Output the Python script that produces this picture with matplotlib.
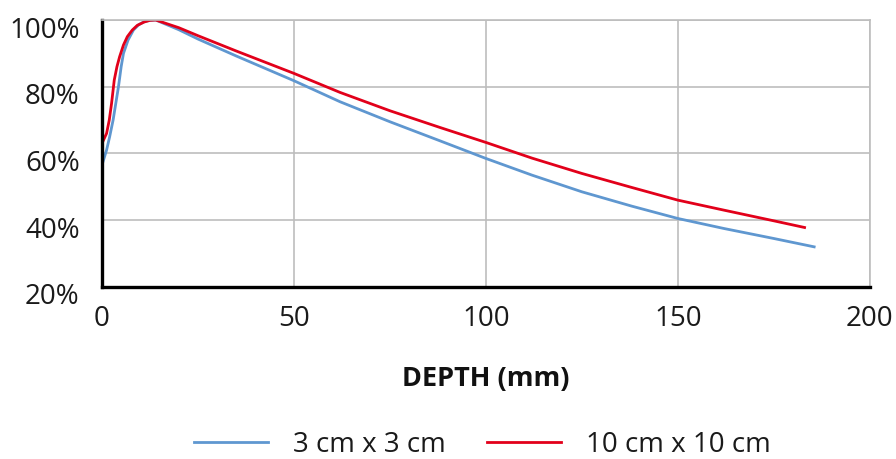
import matplotlib.pyplot as plt
from matplotlib.transforms import ScaledTranslation

plt.rcParams['font.family'] = ['Open Sans', 'DejaVu Sans']

# depth (mm) and relative dose (%)
depth_3cm = [0, 1.2, 2.0, 2.9, 3.6, 4.3, 5.0, 5.6, 6.8, 8.2, 9.6, 11, 12.5, 14,
             20, 25, 35, 50, 62, 75, 88, 100, 112, 125, 138, 150, 162, 175, 185.5]
dose_3cm = [56.5, 61, 65, 70, 75, 80, 86, 90, 94, 97, 98.6, 99.5, 99.9, 100,
            97.1, 94.3, 89.2, 81.8, 75.5, 69.5, 63.8, 58.5, 53.5, 48.5, 44.2, 40.5,
            37.5, 34.5, 32]

depth_10cm = [0, 1.2, 1.9, 2.5, 3.2, 3.9, 4.6, 5.6, 6.6, 7.9, 9.2, 11, 12.5, 14,
              20, 25, 35, 50, 62, 75, 88, 100, 112, 125, 138, 150, 162, 175, 183]
dose_10cm = [63, 66, 70, 75, 82, 86, 89, 92.5, 95, 97, 98.4, 99.4, 99.9, 100,
             97.7, 95.3, 90.7, 84, 78.3, 72.8, 67.8, 63.3, 58.6, 54, 49.8, 46,
             43, 39.8, 37.8]

series_labels = ['3 cm x 3 cm', '10 cm x 10 cm']
x_ticks = [0, 50, 100, 150, 200]
y_ticks = [20, 40, 60, 80, 100]

fig = plt.figure(figsize=(8.96, 4.59), dpi=100)
ax = fig.add_axes([0.1138, 0.375, 0.857, 0.5814])

ax.plot(depth_3cm, dose_3cm, color='#5F97D0', lw=2.0, label=series_labels[0],
        solid_joinstyle='round')
ax.plot(depth_10cm, dose_10cm, color='#E2001A', lw=2.0, label=series_labels[1],
        solid_joinstyle='round')

ax.set_xlim(0, 200)
ax.set_ylim(20, 100)
ax.set_xticks(x_ticks)
ax.set_yticks(y_ticks)
ax.set_yticklabels(['{}%'.format(v) for v in y_ticks])
ax.tick_params(length=0, labelsize=20, colors='#1a1a1a')
ax.tick_params(axis='x', pad=13)
ax.tick_params(axis='y', pad=16)

# the y labels sit a bit below their grid lines in the reference
offset = ScaledTranslation(0, -7 / 100, fig.dpi_scale_trans)
for lab in ax.get_yticklabels():
    lab.set_transform(lab.get_transform() + offset)

ax.grid(True, color='#BDBDBD', lw=1.2)
ax.set_axisbelow(True)
for side in ['top', 'right']:
    ax.spines[side].set_color('#BDBDBD')
    ax.spines[side].set_linewidth(1.2)
for side in ['left', 'bottom']:
    ax.spines[side].set_color('black')
    ax.spines[side].set_linewidth(2.4)

ax.set_xlabel('DEPTH (mm)', fontsize=19.5, fontweight='bold', labelpad=24,
              color='#111111')

fig.legend(loc='center', bbox_to_anchor=(0.5385, 0.031), ncol=2, frameon=False,
           fontsize=20, handlelength=2.66, handletextpad=0.9, columnspacing=1.47,
           labelcolor='#1a1a1a')

fig.savefig('out.png', dpi=100)
